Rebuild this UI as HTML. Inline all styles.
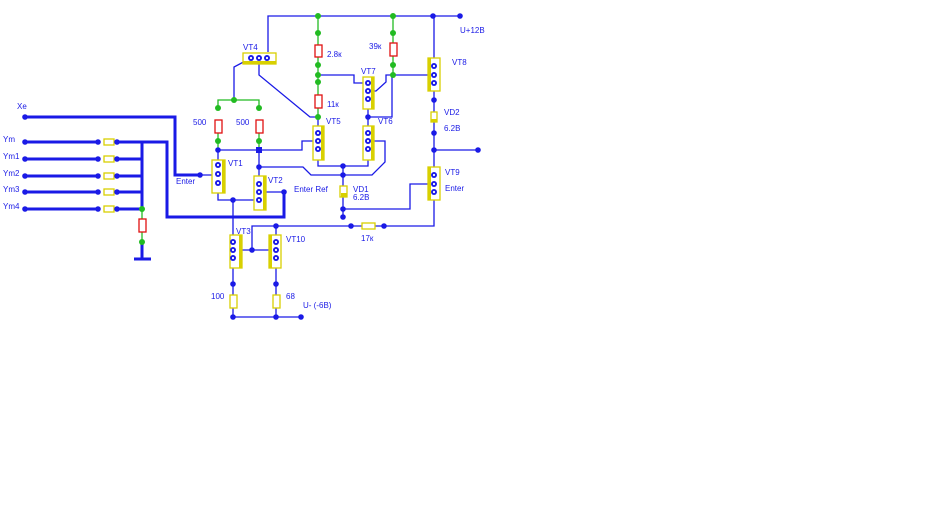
<!DOCTYPE html>
<html><head><meta charset="utf-8"><style>
body{margin:0;background:#fff;width:929px;height:522px;overflow:hidden}
text{font-family:"Liberation Sans",sans-serif;font-size:8px;fill:#1a1ae6}
</style></head><body>
<svg width="929" height="522" viewBox="0 0 929 522" xmlns="http://www.w3.org/2000/svg">
<defs>
<g id="pin"><circle r="3" fill="#1a1ae6"/><circle r="1.1" fill="#fff"/></g>
<circle id="d" r="2.8" fill="#1a1ae6"/>
<circle id="g" r="3" fill="#22bb22"/>
</defs>
<g stroke="#1a1ae6" stroke-width="1.3" fill="none">
<!-- top rail -->
<polyline points="268,52 268,16 460,16"/>
<!-- VT4 -->
<polyline points="251,58 234,67 234,100"/>
<polyline points="259,58 259,75 310,117 318,117"/>
<!-- col 318 -->
<line x1="318" y1="117" x2="318" y2="133"/>
<!-- VT5 -->
<polyline points="318,141 302,141 302,150 218,150"/>
<polyline points="318,149 318,166 368,166 368,149"/>
<!-- VT7 -->
<polyline points="318,75 354,75 354,83 368,83"/>
<polyline points="368,91 376,91 386,82 386,75 434,75"/>
<polyline points="392,75 392,117 368,117 368,133"/>
<line x1="368" y1="99" x2="368" y2="117"/>
<!-- VT6 middle -->
<polyline points="368,141 385,141 385,162 372,175 311,175 303,167 259,167"/>
<!-- VD1 -->
<polyline points="343,166 343,175"/>
<polyline points="343,175 343,209 410,209 410,184 434,184"/>
<line x1="343" y1="209" x2="343" y2="217"/>
<!-- VT8 col -->
<line x1="434" y1="16" x2="434" y2="175"/>
<line x1="434" y1="150" x2="478" y2="150"/>
<polyline points="434,192 434,226 252,226 252,250"/>
<!-- VT1/VT2 -->
<line x1="218" y1="150" x2="218" y2="165"/>
<polyline points="218,183 218,200 259,200"/>
<polyline points="259,150 259,183"/>
<polyline points="259,192 284,192"/>
<polyline points="200,175 218,175"/>
<!-- VT3/VT10 -->
<line x1="233" y1="200" x2="233" y2="242"/>
<line x1="233" y1="250" x2="276" y2="250"/>
<line x1="276" y1="226" x2="276" y2="242"/>
<line x1="233" y1="258" x2="233" y2="317"/>
<line x1="276" y1="258" x2="276" y2="317"/>
<line x1="233" y1="317" x2="301" y2="317"/>
</g>
<g stroke="#1a1ae6" stroke-width="3" fill="none">
<polyline points="25,117 175,117 175,175 200,175"/>
<polyline points="117,142 167,142 167,217 284,217 284,192"/>
<line x1="25" y1="142" x2="98" y2="142"/>
<line x1="25" y1="159" x2="98" y2="159"/>
<line x1="25" y1="176" x2="98" y2="176"/>
<line x1="25" y1="192" x2="98" y2="192"/>
<line x1="25" y1="209" x2="98" y2="209"/>
<line x1="117" y1="159" x2="142" y2="159"/>
<line x1="117" y1="176" x2="142" y2="176"/>
<line x1="117" y1="192" x2="142" y2="192"/>
<line x1="117" y1="209" x2="142" y2="209"/>
<line x1="142" y1="142" x2="142" y2="209"/>
<line x1="142" y1="242" x2="142" y2="259"/>
<line x1="134" y1="259" x2="151" y2="259"/>
</g>
<g stroke="#22bb22" stroke-width="1.3" fill="none">
<polyline points="218,108 218,100 259,100 259,108"/>
<line x1="318" y1="16" x2="318" y2="117"/>
<line x1="393" y1="16" x2="393" y2="75"/>
<line x1="142" y1="209" x2="142" y2="242"/>
<line x1="218" y1="132" x2="218" y2="150"/>
<line x1="259" y1="132" x2="259" y2="150"/>
</g>
<!-- red resistors -->
<g stroke="#e01010" stroke-width="1.3" fill="#fff">
<rect x="215" y="120" width="7" height="13"/>
<rect x="256" y="120" width="7" height="13"/>
<rect x="315" y="45" width="7" height="12"/>
<rect x="315" y="95" width="7" height="13"/>
<rect x="390" y="43" width="7" height="13"/>
<rect x="139" y="219" width="7" height="13"/>
</g>
<!-- yellow parts -->
<g stroke="#d8d000" stroke-width="1.3" fill="#fff">
<rect x="104" y="139" width="10" height="6"/><rect x="104" y="156" width="10" height="6"/>
<rect x="104" y="173" width="10" height="6"/><rect x="104" y="189" width="10" height="6"/>
<rect x="104" y="206" width="10" height="6"/>
<rect x="230" y="295" width="7" height="13"/><rect x="273" y="295" width="7" height="13"/>
<rect x="362" y="223" width="13" height="6"/>
<rect x="340" y="186" width="7" height="11"/>
<rect x="431" y="112" width="6" height="10"/>
<!-- transistors -->
<rect x="243" y="53" width="33" height="11"/>
<rect x="212" y="160" width="13" height="33"/>
<rect x="254" y="176" width="12" height="34"/>
<rect x="313" y="126" width="11" height="34"/>
<rect x="363" y="126" width="11" height="34"/>
<rect x="363" y="77" width="11" height="32"/>
<rect x="428" y="58" width="12" height="33"/>
<rect x="428" y="167" width="12" height="33"/>
<rect x="230" y="235" width="12" height="33"/>
<rect x="269" y="235" width="12" height="33"/>
</g>
<g fill="#d8d000">
<rect x="243" y="61" width="33" height="3"/>
<rect x="222" y="160" width="3" height="33"/>
<rect x="263" y="176" width="3" height="34"/>
<rect x="321" y="126" width="3" height="34"/>
<rect x="371" y="126" width="3" height="34"/>
<rect x="371" y="77" width="3" height="32"/>
<rect x="428" y="58" width="3" height="33"/>
<rect x="428" y="167" width="3" height="33"/>
<rect x="239" y="235" width="3" height="33"/>
<rect x="269" y="235" width="3" height="33"/>
<rect x="341" y="193" width="6" height="4"/>
<rect x="431" y="119" width="6" height="3"/>
</g>
<!-- pins -->
<use href="#pin" x="251" y="58"/><use href="#pin" x="259" y="58"/><use href="#pin" x="267" y="58"/>
<use href="#pin" x="218" y="165"/><use href="#pin" x="218" y="174"/><use href="#pin" x="218" y="183"/>
<use href="#pin" x="259" y="184"/><use href="#pin" x="259" y="192"/><use href="#pin" x="259" y="200"/>
<use href="#pin" x="318" y="133"/><use href="#pin" x="318" y="141"/><use href="#pin" x="318" y="149"/>
<use href="#pin" x="368" y="133"/><use href="#pin" x="368" y="141"/><use href="#pin" x="368" y="149"/>
<use href="#pin" x="368" y="83"/><use href="#pin" x="368" y="91"/><use href="#pin" x="368" y="99"/>
<use href="#pin" x="434" y="66"/><use href="#pin" x="434" y="75"/><use href="#pin" x="434" y="83"/>
<use href="#pin" x="434" y="175"/><use href="#pin" x="434" y="184"/><use href="#pin" x="434" y="192"/>
<use href="#pin" x="233" y="242"/><use href="#pin" x="233" y="250"/><use href="#pin" x="233" y="258"/>
<use href="#pin" x="276" y="242"/><use href="#pin" x="276" y="250"/><use href="#pin" x="276" y="258"/>
<!-- blue dots -->
<use href="#d" x="25" y="117"/>
<use href="#d" x="25" y="142"/><use href="#d" x="25" y="159"/><use href="#d" x="25" y="176"/><use href="#d" x="25" y="192"/><use href="#d" x="25" y="209"/>
<use href="#d" x="98" y="142"/><use href="#d" x="98" y="159"/><use href="#d" x="98" y="176"/><use href="#d" x="98" y="192"/><use href="#d" x="98" y="209"/>
<use href="#d" x="117" y="142"/><use href="#d" x="117" y="159"/><use href="#d" x="117" y="176"/><use href="#d" x="117" y="192"/><use href="#d" x="117" y="209"/>
<use href="#d" x="200" y="175"/><use href="#d" x="218" y="150"/><use href="#d" x="259" y="167"/>
<use href="#d" x="233" y="200"/><use href="#d" x="284" y="192"/>
<use href="#d" x="433" y="16"/><use href="#d" x="460" y="16"/>
<use href="#d" x="368" y="117"/><use href="#d" x="343" y="166"/><use href="#d" x="343" y="175"/>
<use href="#d" x="343" y="209"/><use href="#d" x="343" y="217"/>
<use href="#d" x="434" y="100"/><use href="#d" x="434" y="133"/><use href="#d" x="434" y="150"/><use href="#d" x="478" y="150"/>
<use href="#d" x="384" y="226"/><use href="#d" x="351" y="226"/><use href="#d" x="276" y="226"/><use href="#d" x="252" y="250"/>
<use href="#d" x="233" y="284"/><use href="#d" x="276" y="284"/>
<use href="#d" x="233" y="317"/><use href="#d" x="276" y="317"/><use href="#d" x="301" y="317"/>
<rect x="256" y="147" width="6" height="6" fill="#1a1ae6"/>
<!-- green dots -->
<use href="#g" x="318" y="16"/><use href="#g" x="393" y="16"/>
<use href="#g" x="318" y="33"/><use href="#g" x="318" y="65"/><use href="#g" x="318" y="75"/><use href="#g" x="318" y="82"/><use href="#g" x="318" y="117"/>
<use href="#g" x="393" y="33"/><use href="#g" x="393" y="65"/><use href="#g" x="393" y="75"/>
<use href="#g" x="234" y="100"/><use href="#g" x="218" y="108"/><use href="#g" x="259" y="108"/>
<use href="#g" x="218" y="141"/><use href="#g" x="259" y="141"/>
<use href="#g" x="142" y="209"/><use href="#g" x="142" y="242"/>
<!-- labels -->
<text x="17" y="109">Xe</text>
<text x="3" y="142">Ym</text><text x="3" y="159">Ym1</text><text x="3" y="176">Ym2</text><text x="3" y="192">Ym3</text><text x="3" y="209">Ym4</text>
<text x="193" y="125">500</text><text x="236" y="125">500</text>
<text x="243" y="50">VT4</text>
<text x="327" y="57">2.8к</text><text x="327" y="107">11к</text>
<text x="369" y="49">39к</text>
<text x="361" y="74">VT7</text><text x="452" y="65">VT8</text>
<text x="326" y="124">VT5</text><text x="378" y="124">VT6</text>
<text x="444" y="115">VD2</text><text x="444" y="131">6.2В</text>
<text x="460" y="33">U+12В</text>
<text x="228" y="166">VT1</text><text x="176" y="184">Enter</text>
<text x="268" y="183">VT2</text><text x="294" y="192">Enter Ref</text>
<text x="353" y="192">VD1</text><text x="353" y="200">6.2В</text>
<text x="445" y="175">VT9</text><text x="445" y="191">Enter</text>
<text x="361" y="241">17к</text>
<text x="236" y="234">VT3</text><text x="286" y="242">VT10</text>
<text x="211" y="299">100</text><text x="286" y="299">68</text>
<text x="303" y="308">U- (-6В)</text>
</svg>
</body></html>
